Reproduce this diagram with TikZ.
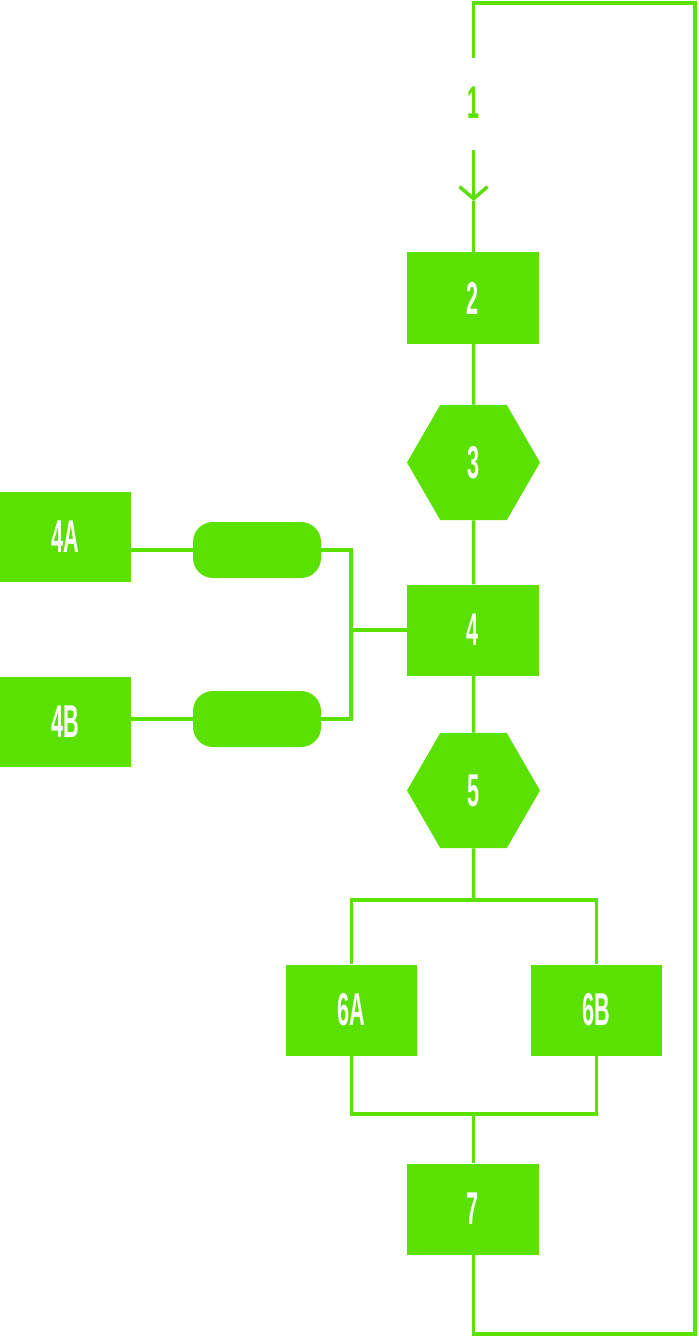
\documentclass[tikz,border=0pt]{standalone}
\usepackage{fontspec}
\usepackage{tikz}
\usetikzlibrary{arrows.meta,shapes.geometric}
\newfontfamily\numfont{Liberation Sans}[FakeStretch=0.47]
\definecolor{leaf}{HTML}{5BE100}
\tikzstyle{lbl}=[font=\numfont\bfseries\fontsize{46}{46}\selectfont]
\tikzstyle{blk}=[lbl, fill=leaf, text=white, minimum width=132pt, minimum height=91pt, inner sep=0pt]
\tikzstyle{hex}=[lbl, regular polygon, regular polygon sides=6, fill=leaf, text=white, minimum size=133pt, inner sep=0pt]
\tikzstyle{pill}=[fill=leaf, rounded corners=20pt, minimum width=128pt, minimum height=56pt, inner sep=0pt]
\tikzstyle{wire}=[draw=leaf, line width=3.5pt]

\begin{document}
\begin{tikzpicture}[x=1pt,y=-1pt,>={Straight Barb[length=12pt,width=28pt]}]
        \useasboundingbox (0,0) rectangle (698,1337);

        \node [lbl,text=leaf] (s1) at (473.5,103) {1};
        \node [blk] (n2) at (472.5,298) {2};
        \node [hex] (n3) at (473.5,462.5) {3};
        \node [blk] (n4) at (473,630) {4};
        \node [hex] (n5) at (473.5,790.5) {5};
        \node [blk, minimum width=131pt, minimum height=90pt] (n4a) at (65.5,537) {4A};
        \node [blk, minimum width=131pt, minimum height=90pt] (n4b) at (65.5,721.5) {4B};
        \node [pill] (r4a) at (257,550) {};
        \node [pill] (r4b) at (257,719) {};
        \node [blk, minimum width=131pt] (n6a) at (351.5,1010) {6A};
        \node [blk, minimum width=131pt] (n6b) at (596.5,1010) {6B};
        \node [blk] (n7) at (472.5,1209) {7};

        \coordinate (c1a) at (473.5,58);
        \coordinate (c1b) at (473.5,150);
        \coordinate (tip) at (473.5,201);
        \coordinate (tr) at (695,3);
        \coordinate (bl) at (473.5,1334);
        \coordinate (m4) at (351,630);
        \coordinate (s5) at (473.5,900);
        \coordinate (j7) at (473.5,1114);

        % loop back to the top
        \draw [wire] (n7.south -| bl) -- (bl) -| (tr) -| (c1a);
        \draw [wire,->] (c1b) -- (tip);
        \draw [wire] (tip) -- (n2.north -| tip);

        \draw [wire] (n2.south -| tip) -- (n3.north);
        \draw [wire] (n3.south) -- (n4.north -| tip);
        \draw [wire] (n4.south -| tip) -- (n5.north);

        % side branch
        \draw [wire] (r4a.west) -- (r4a.west -| n4a.east);
        \draw [wire] (r4b.west) -- (r4b.west -| n4b.east);
        \draw [wire] (r4a.east) -| (m4) |- (r4b.east);
        \draw [wire] (m4) -- (n4.west);

        % split and join
        \draw [wire] (n5.south) -- (s5);
        \draw [wire] (n6a.north) |- (s5) -| (n6b.north);
        \draw [wire] (n6a.south) |- (j7) -| (n6b.south);
        \draw [wire] (j7) -- (n7.north -| j7);
\end{tikzpicture}
\end{document}
